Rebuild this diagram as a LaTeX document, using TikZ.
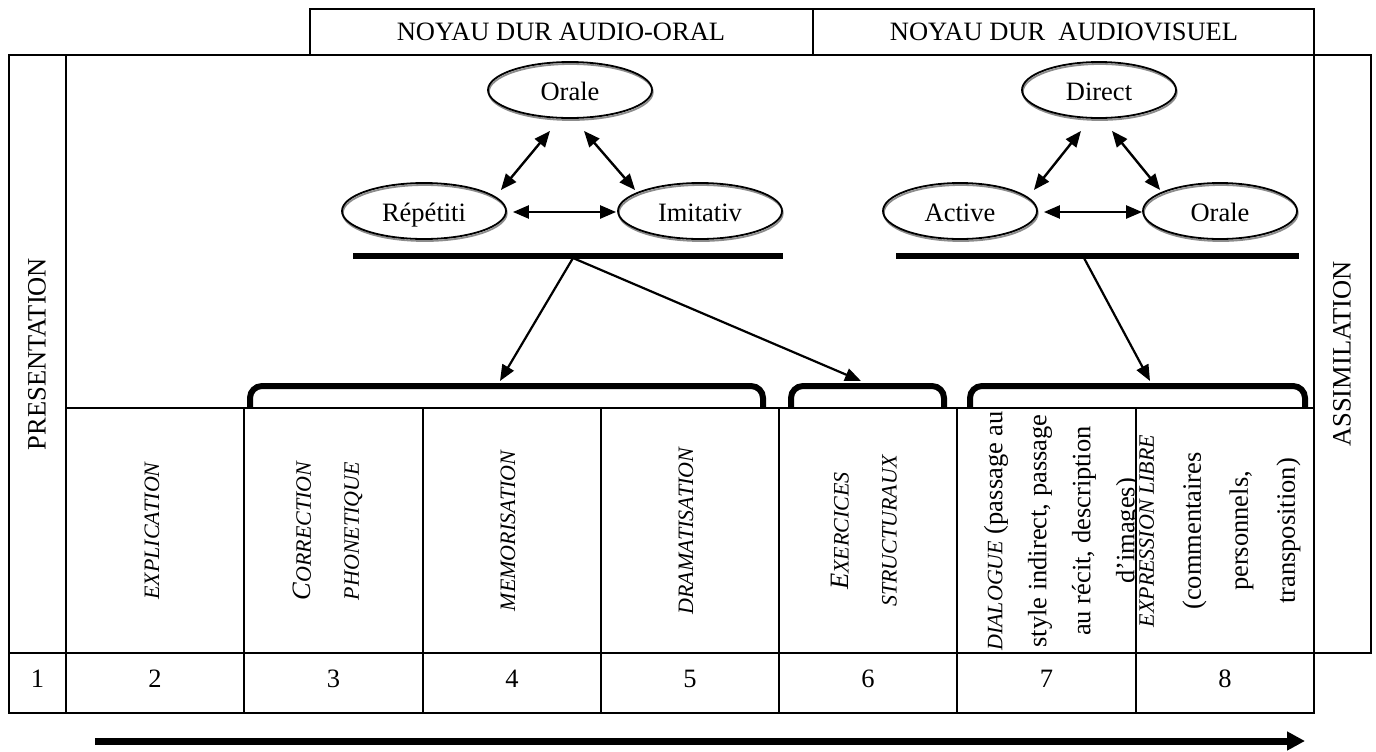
\documentclass[tikz,border=0pt]{standalone}
\usepackage{fontspec}
\setmainfont{Liberation Serif}
\usetikzlibrary{
	arrows.meta,
	shapes,
	shadows,
}
\newcommand{\smc}[1]{{\fontsize{11}{12}\selectfont #1}}

\begin{document}
\begin{tikzpicture}[x=0.5pt, y=-0.5pt, line width=1pt,
	every node/.style={font=\fontsize{13.25}{16}\selectfont, inner sep=0pt},
	bubble/.style={ellipse, draw, line width=0.9pt, minimum height=28pt, text height=10pt, text depth=0pt,
		general shadow={draw=black!45, shadow xshift=0.4pt, shadow yshift=-1pt}},
	duo/.style={{Triangle[length=8pt,width=6.5pt]}-{Triangle[length=8pt,width=6.5pt]}, line width=1.2pt},
	lead/.style={-{Triangle[length=8pt,width=6.5pt]}, line width=1.1pt},
	bar/.style={line width=3pt},
	bracket/.style={line width=3pt, rounded corners=6pt},
	vert/.style={rotate=90, align=center},
	]
\useasboundingbox (0,0) rectangle (1376,751);

% header
\draw (310,55) -- (310,9) -- (1314,9) -- (1314,55);
\draw (813,9) -- (813,55);
\node (hdrA) at (561,32) {NOYAU DUR AUDIO-ORAL};
\node (hdrB) at (1064,32) {NOYAU DUR\ \ AUDIOVISUEL};

% frame
\draw (9,55) rectangle (1371,653);
\draw (9,653) -- (9,713) -- (1314,713) -- (1314,55);
\draw (66,55) -- (66,713);
\draw (66,408) -- (1314,408);

% columns
\draw (244.3,408) -- (244.3,713);
\draw (422.6,408) -- (422.6,713);
\draw (600.9,408) -- (600.9,713);
\draw (779.1,408) -- (779.1,713);
\draw (957.4,408) -- (957.4,713);
\draw (1135.7,408) -- (1135.7,713);

% side labels
\node[vert] (pres) at (37,354) {PRESENTATION};
\node[vert] (assim) at (1342,354) {ASSIMILATION};

%% audio-oral core
\node[bubble, minimum width=82pt] (oraleA) at (570,90) {Orale};
\node[bubble, minimum width=82pt] (repet) at (424,211) {Répétiti};
\node[bubble, minimum width=82pt] (imit) at (700,211) {Imitativ};
\draw[duo] ([shift={(-20,12)}]oraleA.south) -- ([shift={(-6,-21)}]repet.east);
\draw[duo] ([shift={(14,12)}]oraleA.south) -- ([shift={(18,-21)}]imit.west);
\draw[duo] ([shift={(6,1)}]repet.east) -- ([shift={(-1,1)}]imit.west);
\draw[bar] (353,256) -- (783,256);
\coordinate (hubA) at (573,258);

%% audiovisual core
\node[bubble, minimum width=77pt] (direct) at (1099,90) {Direct};
\node[bubble, minimum width=77pt] (active) at (960,211) {Active};
\node[bubble, minimum width=77pt] (oraleB) at (1220,211) {Orale};
\draw[duo] ([shift={(-18,12)}]direct.south) -- ([shift={(-4,-21)}]active.east);
\draw[duo] ([shift={(13,12)}]direct.south) -- ([shift={(18,-21)}]oraleB.west);
\draw[duo] ([shift={(6,1)}]active.east) -- ([shift={(0,1)}]oraleB.west);
\draw[bar] (896,256) -- (1299,256);
\coordinate (hubB) at (1084,258);

% brackets
\draw[bracket] (250,408) -- (250,386) -- (763,386) -- (763,408);
\draw[bracket] (791,408) -- (791,386) -- (944,386) -- (944,408);
\draw[bracket] (970,408) -- (970,386) -- (1305,386) -- (1305,408);
\coordinate (brA) at (500,381);
\coordinate (brB) at (861,381);
\coordinate (brC) at (1150,381);
\draw[lead] (hubA) -- (brA);
\draw[lead] (hubA) -- (brB);
\draw[lead] (hubB) -- (brC);

% steps
\node[vert, font=\fontsize{13.25}{16}\selectfont\itshape] (explic) at (152,531) {\smc{EXPLICATION}};
\node[vert, font=\fontsize{13.25}{24}\selectfont\itshape] (correc) at (328,531) {C\smc{ORRECTION}\\ \smc{PHONETIQUE}};
\node[vert, font=\fontsize{13.25}{16}\selectfont\itshape] (memor) at (508,531) {\smc{MEMORISATION}};
\node[vert, font=\fontsize{13.25}{16}\selectfont\itshape] (drama) at (686,531) {\smc{DRAMATISATION}};
\node[vert, font=\fontsize{13.25}{24}\selectfont\itshape] (exerc) at (864,531) {E\smc{XERCICES}\\ \smc{STRUCTURAUX}};
\begin{scope}
\clip (957.4,408) rectangle (1135.7,653);
\node[vert, font=\fontsize{13.25}{22}\selectfont] (dialog) at (1062,531) {\textit{\smc{DIALOGUE}} (passage au\\ style indirect, passage\\ au récit, description\\ d'images)};
\end{scope}
\node[vert, font=\fontsize{13.25}{23.5}\selectfont] (exprl) at (1220,531) {\textit{\smc{EXPRESSION LIBRE}}\\ (commentaires\\ personnels,\\ transposition)};

% numbers
\node (n1) at (37.5,679) {1};
\node (n2) at (155,679) {2};
\node (n3) at (333.5,679) {3};
\node (n4) at (512,679) {4};
\node (n5) at (690,679) {5};
\node (n6) at (868,679) {6};
\node (n7) at (1046.5,679) {7};
\node (n8) at (1225,679) {8};

% progression
\coordinate (flowS) at (95,741);
\coordinate (flowE) at (1305,741);
\draw[line width=3.5pt, -{Triangle[length=9pt,width=9pt]}] (flowS) -- (flowE);

\end{tikzpicture}
\end{document}
